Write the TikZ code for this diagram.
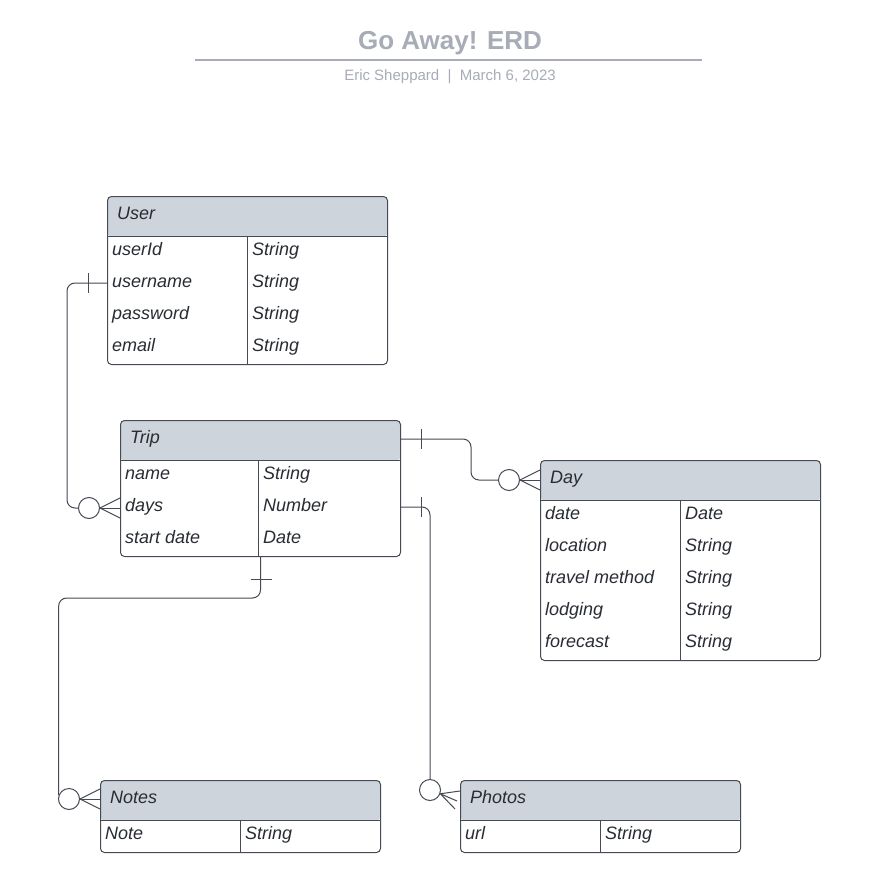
\documentclass[tikz,border=0pt]{standalone}
\usepackage{fontspec}
\setmainfont{Liberation Sans}
\definecolor{titlegray}{HTML}{A7ACB6}
\definecolor{headfill}{HTML}{CED4DB}
\definecolor{linegray}{HTML}{454A54}
\definecolor{txt}{HTML}{282C33}

\tikzset{
  entity/.style={draw=linegray, line width=1pt, rounded corners=4pt,
    minimum width=280pt, inner sep=0pt, anchor=north west,
    path picture={
      \fill[headfill] (path picture bounding box.north west) rectangle ([yshift=-40pt]path picture bounding box.north east);
      \draw[linegray, line width=1pt] ([yshift=-40pt]path picture bounding box.north west) -- ([yshift=-40pt]path picture bounding box.north east);
      \draw[linegray, line width=1pt] ([xshift=#1, yshift=-40pt]path picture bounding box.north west) -- ([xshift=#1]path picture bounding box.south west);
    }},
  entity/.default=140pt,
  field/.style={anchor=west, inner sep=0pt, text height=12pt, text depth=4pt,
    font=\fontsize{18}{21}\selectfont\itshape, text=txt},
  conn/.style={draw=linegray, line width=1pt},
  zero/.style={circle, draw=linegray, line width=1pt, fill=white, minimum size=21pt, inner sep=0pt},
}

\begin{document}
\begin{tikzpicture}[x=1pt, y=-1pt]
\useasboundingbox (0,0) rectangle (896,896);
\fill[white] (0,0) rectangle (896,896);

% title
\node[font=\fontsize{26}{30}\selectfont\bfseries, text=titlegray] (title) at (450,43) {Go Away! ERD};
\draw[titlegray, line width=1.8pt] (195,60) -- (702,60);
\node[font=\fontsize{15}{18}\selectfont, text=titlegray] (byline) at (450,77) {Eric Sheppard~~|~~March 6, 2023};

% User
\node[entity, minimum height=168pt] (user) at (107,196) {};
\node[field] (user-h) at ([xshift=10pt, yshift=-19pt]user.north west) {User};
\foreach \n/\t [count=\i] in {userId/String, username/String, password/String, email/String}{
  \node[field] (user-n\i) at ([xshift=5pt, yshift={-23pt-32pt*\i}]user.north west) {\n};
  \node[field] (user-t\i) at ([xshift=145pt, yshift={-23pt-32pt*\i}]user.north west) {\t};
}

% Trip
\node[entity=138pt, minimum height=136pt] (trip) at (120,420) {};
\node[field] (trip-h) at ([xshift=10pt, yshift=-19pt]trip.north west) {Trip};
\foreach \n/\t [count=\i] in {name/String, days/Number, start date/Date}{
  \node[field] (trip-n\i) at ([xshift=5pt, yshift={-23pt-32pt*\i}]trip.north west) {\n};
  \node[field] (trip-t\i) at ([xshift=143pt, yshift={-23pt-32pt*\i}]trip.north west) {\t};
}

% Day
\node[entity, minimum height=200pt] (day) at (540,460) {};
\node[field] (day-h) at ([xshift=10pt, yshift=-19pt]day.north west) {Day};
\foreach \n/\t [count=\i] in {date/Date, location/String, travel method/String, lodging/String, forecast/String}{
  \node[field] (day-n\i) at ([xshift=5pt, yshift={-23pt-32pt*\i}]day.north west) {\n};
  \node[field] (day-t\i) at ([xshift=145pt, yshift={-23pt-32pt*\i}]day.north west) {\t};
}

% Notes
\node[entity, minimum height=72pt] (notes) at (100,780) {};
\node[field] (notes-h) at ([xshift=10pt, yshift=-19pt]notes.north west) {Notes};
\node[field] (notes-n1) at ([xshift=5pt, yshift=-55pt]notes.north west) {Note};
\node[field] (notes-t1) at ([xshift=145pt, yshift=-55pt]notes.north west) {String};

% Photos
\node[entity, minimum height=72pt] (photos) at (460,780) {};
\node[field] (photos-h) at ([xshift=10pt, yshift=-19pt]photos.north west) {Photos};
\node[field] (photos-n1) at ([xshift=5pt, yshift=-55pt]photos.north west) {url};
\node[field] (photos-t1) at ([xshift=145pt, yshift=-55pt]photos.north west) {String};

% User -- Trip
\node[zero] (z1) at (89,508) {};
\draw[conn, rounded corners=8pt] (user.west |- user-n2) -- ++(-40,0) |- (z1.west);
\draw[conn] ([xshift=-19pt]user.west |- user-n2) ++(0,-10) -- ++(0,20);
\foreach \d in {-10,0,10}
  \draw[conn] (z1.east) -- ([yshift=\d pt]trip.west |- z1);

% Trip -- Day
\node[zero] (z2) at (509,480) {};
\draw[conn, rounded corners=8pt] (trip.east |- trip-h) -- ++(70,0) |- (z2.west);
\draw[conn] ([xshift=20pt]trip.east |- trip-h) ++(0,-10) -- ++(0,20);
\foreach \d in {-10,0,10}
  \draw[conn] (z2.east) -- ([yshift=\d pt]day.west |- z2);

% Trip -- Photos
\node[zero] (z3) at (430,790) {};
\draw[conn, rounded corners=8pt] (trip.east |- trip-n2) -| (z3.north);
\draw[conn] ([xshift=20pt]trip.east |- trip-n2) ++(0,-10) -- ++(0,20);
\draw[conn] ([yshift=-11pt]photos.north west) -- (z3.-20) -- ([xshift=-5pt, yshift=-29pt]photos.north west)
  (z3.-20) -- ([xshift=-3pt, yshift=-21pt]photos.north west);

% Trip -- Notes
\node[zero] (z4) at (69,799) {};
\draw[conn, rounded corners=8pt] (trip.south) -- ++(0,41) -| (z4.160);
\draw[conn] ([yshift=-22pt]trip.south) ++(-10,0) -- ++(21,0);
\foreach \d in {-10,0,10}
  \draw[conn] (z4.east) -- ([yshift=\d pt]notes.west |- z4);

\end{tikzpicture}
\end{document}
